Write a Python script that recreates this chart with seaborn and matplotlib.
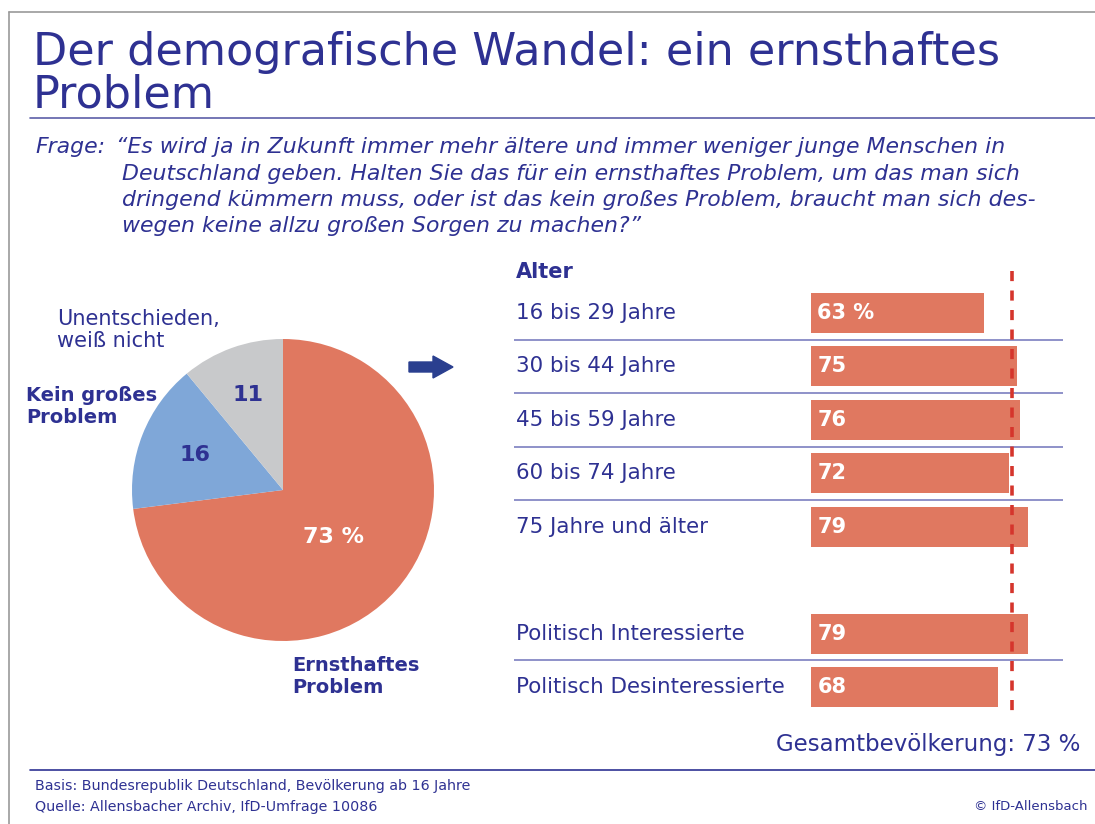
import matplotlib
matplotlib.use("Agg")
import matplotlib.pyplot as plt
import seaborn as sns
import numpy as np
import pandas as pd

# Daten
pie_labels = ["Ernsthaftes\nProblem", "Kein großes\nProblem", "Unentschieden,\nweiß nicht"]
pie_values = [73, 16, 11]

alter_gruppen = ["16 bis 29 Jahre", "30 bis 44 Jahre", "45 bis 59 Jahre",
                 "60 bis 74 Jahre", "75 Jahre und älter"]
alter_werte = [63, 75, 76, 72, 79]
politik_gruppen = ["Politisch Interessierte", "Politisch Desinteressierte"]
politik_werte = [79, 68]
gesamt = 73

titel = "Der demografische Wandel: ein ernsthaftes\nProblem"
frage_zeilen = [
    "\u201cEs wird ja in Zukunft immer mehr ältere und immer weniger junge Menschen in",
    "Deutschland geben. Halten Sie das für ein ernsthaftes Problem, um das man sich",
    "dringend kümmern muss, oder ist das kein großes Problem, braucht man sich des-",
    "wegen keine allzu großen Sorgen zu machen?\u201d",
]
basis = "Basis: Bundesrepublik Deutschland, Bevölkerung ab 16 Jahre"
quelle = "Quelle: Allensbacher Archiv, IfD-Umfrage 10086"
copyright_txt = "© IfD-Allensbach"

NAVY = "#2e3192"
ROT = "#e07860"
BLAU = "#7fa7d8"
GRAU = "#c8c9cb"
LINIE = "#7b7fc0"

sns.set_theme(style="white")
plt.rcParams['font.family'] = ['DejaVu Sans']

W, H = 1095, 824
fig = plt.figure(figsize=(W / 100, H / 100), dpi=100)


def fx(x):
    return x / W


def fy(y):
    return 1 - y / H


def zeilen(x, y0, text, step, **kw):
    # mehrzeiliger Text, jede Zeile mit eigener Grundlinie
    for k, t in enumerate(text.split("\n")):
        fig.text(fx(x), fy(y0 + step * k), t, va="baseline", **kw)


# Rahmen und Linien
fig.add_artist(plt.Line2D([fx(9), fx(W)], [fy(12), fy(12)], color="#9a9a9a", lw=1.2))
fig.add_artist(plt.Line2D([fx(9), fx(9)], [fy(12), fy(H)], color="#9a9a9a", lw=1.2))
fig.add_artist(plt.Line2D([fx(30), fx(W)], [fy(118), fy(118)], color="#5c5fa8", lw=1.2))
fig.add_artist(plt.Line2D([fx(30), fx(W)], [fy(770), fy(770)], color=NAVY, lw=1.2))

# Titel
zeilen(33, 65, titel, 43, color=NAVY, fontsize=32)

# Frage
fig.text(fx(35), fy(153), "Frage:", color=NAVY, fontsize=15.8, style="italic", va="baseline")
for i, zeile in enumerate(frage_zeilen):
    x0 = 116 if i == 0 else 122
    fig.text(fx(x0), fy(153 + 26.5 * i), zeile, color=NAVY, fontsize=15.8,
             style="italic", va="baseline")

# Kreisdiagramm
cx, cy, r = 283, 490, 151
ax_pie = fig.add_axes([fx(cx - r), fy(cy + r), 2 * r / W, 2 * r / H])
ax_pie.pie(pie_values, colors=[ROT, BLAU, GRAU], startangle=90, counterclock=False,
           radius=1, wedgeprops=dict(linewidth=0))
ax_pie.set_xlim(-1, 1)
ax_pie.set_ylim(-1, 1)
ax_pie.axis("off")

fig.text(fx(333), fy(537), f"{pie_values[0]} %", color="white", fontsize=16,
         fontweight="bold", ha="center", va="center")
fig.text(fx(195), fy(455), f"{pie_values[1]}", color=NAVY, fontsize=16,
         fontweight="bold", ha="center", va="center")
fig.text(fx(248), fy(395), f"{pie_values[2]}", color=NAVY, fontsize=16,
         fontweight="bold", ha="center", va="center")

zeilen(292, 671, pie_labels[0], 22, color=NAVY, fontsize=14, fontweight="bold")
zeilen(26, 401, pie_labels[1], 22, color=NAVY, fontsize=14, fontweight="bold")
zeilen(57, 325, pie_labels[2], 22, color=NAVY, fontsize=15)

# Pfeil
fig.add_artist(matplotlib.patches.FancyArrow(fx(409), fy(367), fx(44), 0,
                                             width=10 / H, head_width=22 / H,
                                             head_length=fx(20), length_includes_head=True,
                                             color="#2a3f8f", transform=fig.transFigure))

# Balken
gruppen = alter_gruppen + [""] + politik_gruppen
df = pd.DataFrame({"gruppe": alter_gruppen + politik_gruppen,
                   "wert": alter_werte + politik_werte})

x_left, x_zero, x_right = 514, 811, 1063
px_per = (1028 - 811) / 79
y_top, y_bot, row0, row_h = 250, 760, 313, 53.43

ax = fig.add_axes([fx(x_left), fy(y_bot), (x_right - x_left) / W, (y_bot - y_top) / H])
sns.barplot(data=df, x="wert", y="gruppe", order=gruppen, orient="h",
            color=ROT, saturation=1, width=0.75, ax=ax, linewidth=0)
ax.set_xlim(-(x_zero - x_left) / px_per, (x_right - x_zero) / px_per)
ax.set_ylim((y_bot - row0) / row_h, (y_top - row0) / row_h)
ax.axis("off")

trans = ax.get_yaxis_transform()
for i, g in enumerate(gruppen):
    if g:
        ax.text(0.004, i, g, transform=trans, color=NAVY, fontsize=15.4, va="center")
for i, g in enumerate(gruppen):
    if not g:
        continue
    wert = df.loc[df["gruppe"] == g, "wert"].iloc[0]
    txt = f"{wert} %" if i == 0 else f"{wert}"
    ax.text(2.3, i, txt, color="white", fontsize=15, fontweight="bold", va="center")

for i in range(len(gruppen) - 1):
    if gruppen[i] and gruppen[i + 1]:
        ax.axhline(i + 0.5, color=LINIE, lw=1.2)

ax.text(0.004, (272 - row0) / row_h, "Alter", transform=trans, color=NAVY,
        fontsize=15, fontweight="bold", va="center")
ax.vlines(gesamt, (271 - row0) / row_h, (717 - row0) / row_h, color="#d5352c",
          lw=2.6, linestyles=(0, (2.8, 2.6)))

fig.text(fx(1080), fy(744), f"Gesamtbevölkerung: {gesamt} %", color=NAVY,
         fontsize=16.5, ha="right", va="center")

# Fußzeile
fig.text(fx(35), fy(786), basis, color=NAVY, fontsize=10.3, va="center")
fig.text(fx(35), fy(807), quelle, color=NAVY, fontsize=10.3, va="center")
fig.text(fx(1087), fy(807), copyright_txt, color=NAVY, fontsize=9.5, ha="right", va="center")

fig.savefig("out.png", dpi=100)
